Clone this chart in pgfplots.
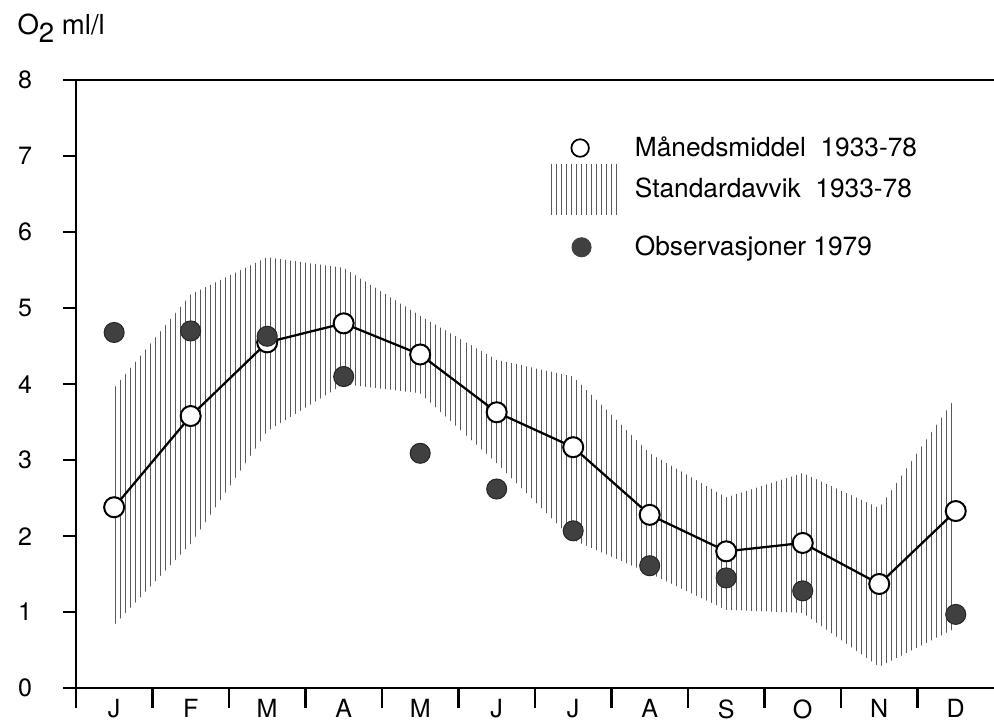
\documentclass[border=0pt]{standalone}
\usepackage{fontspec}
\setmainfont{TeX Gyre Heros}
\usepackage{pgfplots}
\pgfplotsset{compat=1.18}
\usetikzlibrary{patterns.meta}
\begin{document}
\begin{tikzpicture}
\begin{axis}[
  scale only axis, width=366.5pt, height=242.7pt,
  xmin=0, xmax=12, ymin=0, ymax=8,
  axis lines=left, axis line style={-, line width=0.9pt},
  xtick={0.5,1.5,...,11.5},
  xticklabels={J,F,M,A,M,J,J,A,S,O,N,D},
  minor xtick={0,1,...,11},
  ytick={0,1,...,8},
  tick align=outside,
  major tick length=5pt, minor tick length=8pt,
  major x tick style={draw=none},
  minor x tick style={black, line width=0.9pt},
  major y tick style={black, line width=0.9pt},
  tick label style={font=\fontsize{10}{12}\selectfont},
  xticklabel style={yshift=4pt},
  yticklabel style={xshift=-9pt},
  /pgf/number format/assume math mode=true,
  clip=false,
  legend style={draw=none, fill=none, at={(0.505,0.925)}, anchor=north west,
    font=\fontsize{10.5}{12}\selectfont, row sep=0pt, column sep=4pt},
  legend cell align=left,
]
% standard deviation band
\addplot[forget plot, draw=none, pattern={Lines[angle=90,distance=2pt,line width=0.35pt]}, pattern color=black!65]
coordinates {
(0.5,3.95) (1.5,5.18) (2.5,5.67) (3.5,5.53) (4.5,4.90) (5.5,4.32) (6.5,4.10) (7.5,3.09) (8.5,2.51) (9.5,2.83) (10.5,2.37) (11.5,3.83)
(11.5,0.79) (10.5,0.28) (9.5,0.99) (8.5,1.03) (7.5,1.51) (6.5,1.95) (5.5,2.96) (4.5,3.88) (3.5,4.00) (2.5,3.38) (1.5,1.90) (0.5,0.83)
} -- cycle;
% monthly mean
\addplot[forget plot, black, line width=0.9pt, mark=*, mark size=4pt, mark options={fill=white, line width=0.8pt}]
coordinates {
(0.5,2.38) (1.5,3.58) (2.5,4.55) (3.5,4.80) (4.5,4.39) (5.5,3.63) (6.5,3.17) (7.5,2.28) (8.5,1.80) (9.5,1.91) (10.5,1.37) (11.5,2.33)
};
% observations 1979
\addplot[forget plot, only marks, mark=*, mark size=4pt, mark options={fill=black!75, draw=black!85}]
coordinates {
(0.5,4.68) (1.5,4.70) (2.5,4.63) (3.5,4.10) (4.5,3.09) (5.5,2.62) (6.5,2.07) (7.5,1.61) (8.5,1.45) (9.5,1.28) (11.5,0.97)
};
\addlegendimage{legend image code/.code={\path (0,-0.1cm) (1cm,0.1cm); \draw[black, line width=0.7pt, fill=white] (0.45cm,0cm) circle (3.5pt);}}
\addlegendimage{legend image code/.code={\fill[draw=none, pattern={Lines[angle=90,distance=2pt,line width=0.35pt]}, pattern color=black!65] (0cm,-0.35cm) rectangle (1cm,0.35cm);}}
\addlegendimage{legend image code/.code={\path (0,-0.1cm) (1cm,0.45cm); \fill[black!75] (0.47cm,0cm) circle (3.8pt);}}
\legend{M\r{a}nedsmiddel\ \ 1933-78, Standardavvik\ \ 1933-78, Observasjoner 1979}
\draw[line width=0.9pt] (rel axis cs:0,1) -- (rel axis cs:1,1);
\end{axis}
\node[anchor=north west, inner sep=0pt, font=\fontsize{11}{13}\selectfont] at ([xshift=-23.5pt, yshift=26.5pt]current axis.north west) {O\raisebox{-0.55ex}{2} ml/l};
\pgfresetboundingbox
\path[use as bounding box] ([shift={(-30.3pt,-14.8pt)}]current axis.south west) rectangle ([shift={(0pt,32pt)}]current axis.north east);
\end{tikzpicture}
\end{document}
